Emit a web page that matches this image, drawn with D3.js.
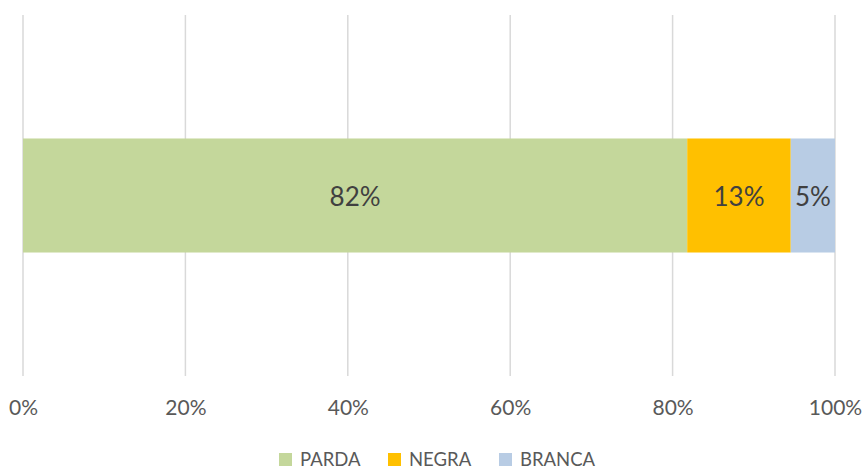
<!DOCTYPE html>
<html><head><meta charset="utf-8">
<script src="https://cdn.jsdelivr.net/npm/d3@7"></script>
<style>body{margin:0;background:#fff}svg{display:block;font-family:Lato,"Open Sans",sans-serif}</style>
</head><body><div id="c"></div>
<script>
const categories = ["PARDA", "NEGRA", "BRANCA"];
const values = [81.8, 12.75, 5.45];
const colors = ["#c4d79b", "#ffc000", "#b8cce4"];
const tickValues = [0, 0.2, 0.4, 0.6, 0.8, 1.0];

const W = 864, H = 470;
const m = {left: 23, right: 29, top: 15, bottom: 94};
const svg = d3.select("#c").append("svg").attr("width", W).attr("height", H);
const total = d3.sum(values);
const x = d3.scaleLinear().domain([0, 1]).range([m.left, W - m.right]);
const y = d3.scaleBand().domain(["row"]).range([m.top, H - m.bottom]).paddingInner(0).paddingOuter(1.083);

// gridlines
svg.append("g").selectAll("line").data(tickValues).join("line")
  .attr("x1", d => x(d)).attr("x2", d => x(d))
  .attr("y1", m.top).attr("y2", H - m.bottom)
  .attr("stroke", "#d9d9d9").attr("stroke-width", 1.5);

// stacked segments
let cum = 0;
const segs = values.map((v, i) => { const s = {cat: categories[i], v, x0: cum / total, x1: (cum + v) / total, c: colors[i]}; cum += v; return s; });
svg.append("g").selectAll("rect").data(segs).join("rect")
  .attr("x", d => x(d.x0)).attr("width", d => x(d.x1) - x(d.x0))
  .attr("y", y("row")).attr("height", y.bandwidth())
  .attr("fill", d => d.c);
svg.append("g").selectAll("text").data(segs).join("text")
  .attr("x", d => (x(d.x0) + x(d.x1)) / 2).attr("y", y("row") + y.bandwidth() / 2 + 1)
  .attr("text-anchor", "middle").attr("dy", "0.35em")
  .attr("font-size", 26).attr("fill", "#404040")
  .text(d => Math.round(d.v) + "%");

// axis
const axis = d3.axisBottom(x).tickValues(tickValues).tickFormat(d3.format(".0%")).tickSize(0).tickPadding(0);
const ag = svg.append("g").attr("transform", `translate(0,${408})`).call(axis);
ag.select(".domain").remove();
ag.selectAll("text").attr("font-size", 21).attr("fill", "#595959").attr("dy", "0.35em").attr("font-family", "Lato,'Open Sans',sans-serif");

// legend
const legX = [279, 388, 499];
const lg = svg.append("g").selectAll("g").data(categories).join("g")
  .attr("transform", (d, i) => `translate(${legX[i]},453)`);
lg.append("rect").attr("width", 13).attr("height", 13).attr("fill", (d, i) => colors[i]);
lg.append("text").attr("x", 21).attr("y", 7).attr("dy", "0.35em")
  .attr("font-size", 18.5).attr("fill", "#595959").text(d => d);
</script></body></html>
